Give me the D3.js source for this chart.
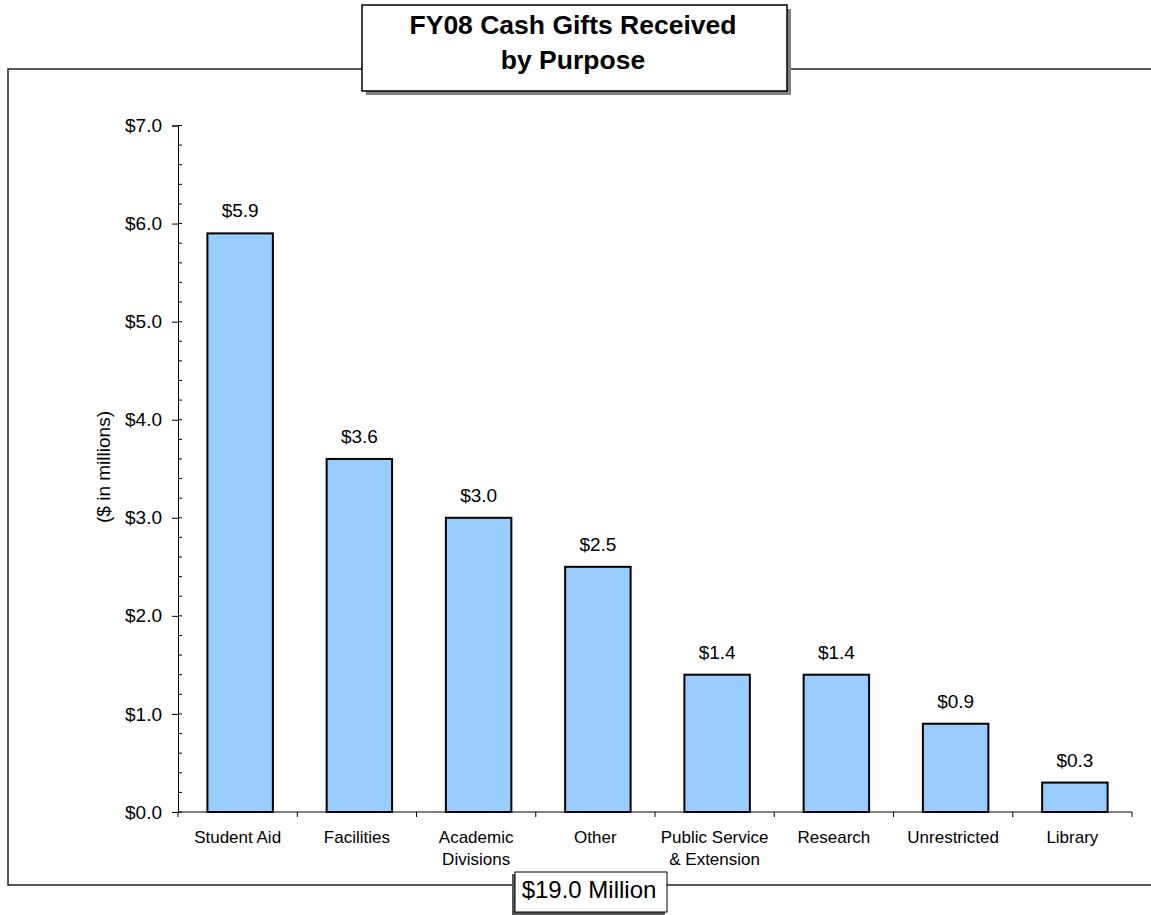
<!DOCTYPE html>
<html>
<head>
<meta charset="utf-8">
<script src="https://cdn.jsdelivr.net/npm/d3@7"></script>
<style>
  body { margin: 0; background: #fff; }
  text { font-family: Arial, "Liberation Sans", sans-serif; fill: #000; }
</style>
</head>
<body>
<svg id="chart" width="1151" height="915"></svg>
<script>
// data
const categories = [["Student Aid"], ["Facilities"], ["Academic", "Divisions"], ["Other"],
  ["Public Service", "& Extension"], ["Research"], ["Unrestricted"], ["Library"]];
const values = [5.9, 3.6, 3.0, 2.5, 1.4, 1.4, 0.9, 0.3];
const yTicks = [0, 1, 2, 3, 4, 5, 6, 7];
const titleLines = ["FY08 Cash Gifts Received", "by Purpose"];
const totalLabel = "$19.0 Million";

const svg = d3.select("#chart");
const margin = {top: 125.5, left: 178, right: 19, bottom: 103};
const width = 1151 - margin.left - margin.right;
const height = 915 - margin.top - margin.bottom;

const dollar = d => "$" + d3.format(".1f")(d);

// outer frame (right side runs off the page)
svg.append("rect")
  .attr("x", 8).attr("y", 69)
  .attr("width", 1160).attr("height", 816)
  .attr("fill", "none")
  .attr("stroke", "#222")
  .attr("stroke-width", 1.5);

const g = svg.append("g")
  .attr("transform", `translate(${margin.left},${margin.top})`);

const x = d3.scaleBand()
  .domain(d3.range(categories.length))
  .range([0, width])
  .paddingInner(0.451)
  .paddingOuter(0.2255);

const y = d3.scaleLinear()
  .domain([0, 7])
  .range([height, 0]);

// minor ticks on the inside
g.append("g")
  .selectAll("line")
  .data(d3.range(0, 7.01, 0.2))
  .join("line")
  .attr("x1", 0).attr("x2", 4)
  .attr("y1", d => y(d)).attr("y2", d => y(d))
  .attr("stroke", "#000");

const yAxis = d3.axisLeft(y).tickValues(yTicks).tickFormat(dollar).tickSize(6).tickPadding(10);
const ya = g.append("g").call(yAxis);
ya.selectAll("text").attr("font-size", 19).style("font-family", "Arial, 'Liberation Sans', sans-serif");
ya.select(".domain").attr("stroke", "#000");

// x axis with category boundaries
const step = x.step();
const xa = g.append("g").attr("transform", `translate(0,${height})`);
xa.append("line").attr("x1", 0).attr("x2", width).attr("stroke", "#000");
xa.selectAll("line.tick")
  .data(d3.range(categories.length + 1))
  .join("line")
  .attr("class", "tick")
  .attr("x1", d => d * step).attr("x2", d => d * step)
  .attr("y1", 0).attr("y2", 5)
  .attr("stroke", "#000");

xa.selectAll("text.cat")
  .data(categories)
  .join("text")
  .attr("class", "cat")
  .attr("text-anchor", "middle")
  .attr("font-size", 17)
  .attr("x", (d, i) => x(i) + x.bandwidth() / 2)
  .attr("y", 31)
  .each(function(d) {
    d3.select(this).selectAll("tspan")
      .data(d)
      .join("tspan")
      .attr("x", d3.select(this).attr("x"))
      .attr("dy", (t, j) => j === 0 ? 0 : 21.5)
      .text(t => t);
  });

// bars (Excel draws them a touch right of the category centre)
const bars = g.append("g").attr("transform", "translate(2.5,0)");
bars.selectAll("rect.bar")
  .data(values)
  .join("rect")
  .attr("class", "bar")
  .attr("x", (d, i) => x(i))
  .attr("y", d => y(d))
  .attr("width", x.bandwidth())
  .attr("height", d => height - y(d))
  .attr("fill", "#99CCFF")
  .attr("stroke", "#000")
  .attr("stroke-width", 2);

bars.selectAll("text.val")
  .data(values)
  .join("text")
  .attr("class", "val")
  .attr("text-anchor", "middle")
  .attr("font-size", 19)
  .attr("x", (d, i) => x(i) + x.bandwidth() / 2)
  .attr("y", d => y(d) - 16)
  .text(dollar);

// y axis title
svg.append("text")
  .attr("transform", "translate(110,467) rotate(-90)")
  .attr("text-anchor", "middle")
  .attr("font-size", 19)
  .text("($ in millions)");

// title box with shadow
svg.append("rect").attr("x", 366).attr("y", 9).attr("width", 425).attr("height", 86).attr("fill", "#808080");
svg.append("rect").attr("x", 362).attr("y", 5).attr("width", 425).attr("height", 86)
  .attr("fill", "#fff").attr("stroke", "#000").attr("stroke-width", 1.5);
svg.append("text")
  .attr("text-anchor", "middle")
  .attr("font-size", 26.5)
  .attr("font-weight", "bold")
  .selectAll("tspan")
  .data(titleLines)
  .join("tspan")
  .attr("x", 573)
  .attr("y", (d, i) => 34 + i * 35)
  .text(d => d);

// total box
svg.append("rect").attr("x", 512).attr("y", 874).attr("width", 153).attr("height", 42).attr("fill", "#555");
svg.append("rect").attr("x", 515).attr("y", 872).attr("width", 152).attr("height", 40)
  .attr("fill", "#fff").attr("stroke", "#000").attr("stroke-width", 1);
svg.append("text")
  .attr("x", 589).attr("y", 898)
  .attr("text-anchor", "middle")
  .attr("font-size", 24)
  .text(totalLabel);
</script>
</body>
</html>
